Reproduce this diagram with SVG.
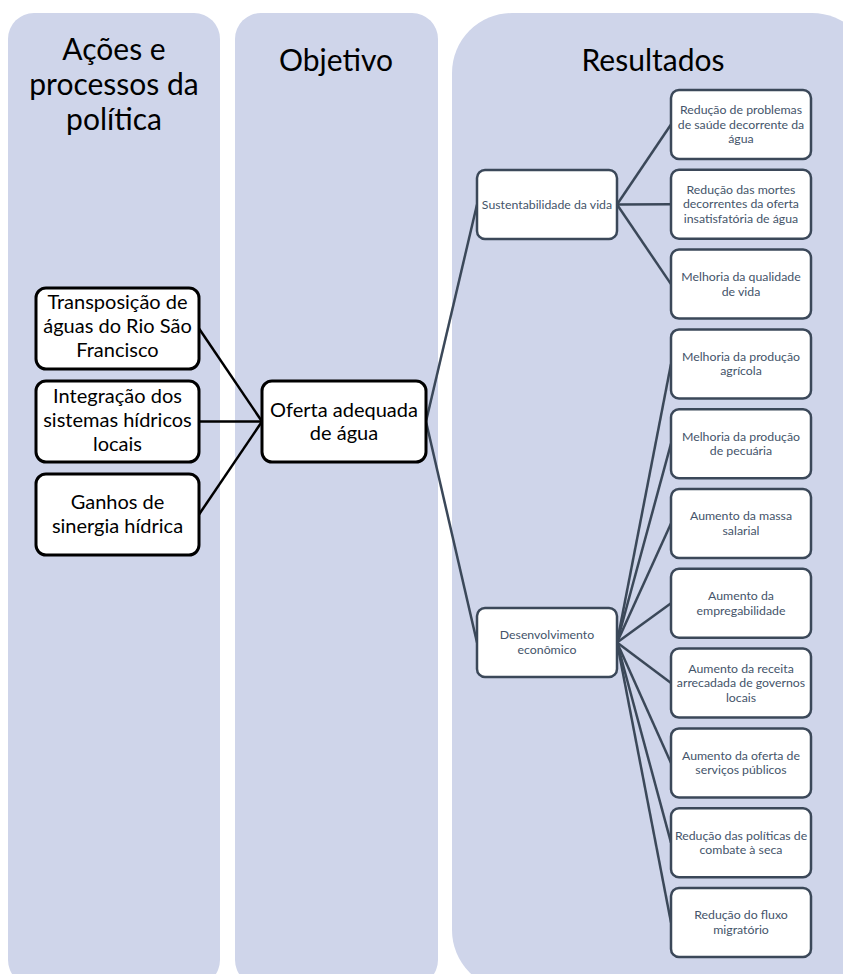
<svg xmlns="http://www.w3.org/2000/svg" width="843" height="974" viewBox="0 0 843 974">
<style>
.panel{fill:#CFD5EA;stroke:none}
.hdr{font-family:Lato,"Open Sans","Noto Sans",sans-serif;font-size:30px;fill:#000;text-anchor:middle}
.bn{fill:#fff;stroke:#000;stroke-width:3}
.bt{font-family:Lato,"Open Sans","Noto Sans",sans-serif;font-size:20px;fill:#000;text-anchor:middle}
.rn{fill:#fff;stroke:#3B4859;stroke-width:2.5}
.rt{font-family:Lato,"Open Sans","Noto Sans",sans-serif;font-size:12.3px;fill:#44546A;text-anchor:middle}
.cb{stroke:#000;stroke-width:2.5;fill:none}
.cs{stroke:#3B4859;stroke-width:2.5;fill:none}
</style>
<rect width="843" height="974" fill="#fff"/>
<g id="panels">
<rect class="panel" x="8" y="13" width="212" height="973" rx="26"/>
<rect class="panel" x="235" y="13" width="203" height="973" rx="26"/>
<rect class="panel" x="452" y="13" width="420" height="977" rx="60"/>
<text class="hdr" x="114" y="60">Ações e</text>
<text class="hdr" x="114" y="95">processos da</text>
<text class="hdr" x="114" y="130">política</text>
<text class="hdr" x="336" y="71">Objetivo</text>
<text class="hdr" x="653" y="71">Resultados</text>
</g>
<g id="connectors">
<line class="cb" x1="199" y1="328.5" x2="262" y2="421.5"/>
<line class="cb" x1="199" y1="421.5" x2="262" y2="421.5"/>
<line class="cb" x1="199" y1="514.5" x2="262" y2="421.5"/>
<line class="cs" x1="426" y1="421.5" x2="477" y2="204.5"/>
<line class="cs" x1="426" y1="421.5" x2="477" y2="642.5"/>
<line class="cs" x1="617" y1="204.5" x2="671" y2="124.5"/>
<line class="cs" x1="617" y1="204.5" x2="671" y2="204.3"/>
<line class="cs" x1="617" y1="204.5" x2="671" y2="284.1"/>
<line class="cs" x1="617" y1="642.5" x2="671" y2="363.9"/>
<line class="cs" x1="617" y1="642.5" x2="671" y2="443.7"/>
<line class="cs" x1="617" y1="642.5" x2="671" y2="523.5"/>
<line class="cs" x1="617" y1="642.5" x2="671" y2="603.3"/>
<line class="cs" x1="617" y1="642.5" x2="671" y2="683.1"/>
<line class="cs" x1="617" y1="642.5" x2="671" y2="762.9"/>
<line class="cs" x1="617" y1="642.5" x2="671" y2="842.7"/>
<line class="cs" x1="617" y1="642.5" x2="671" y2="922.5"/>
</g>
<g id="n-transposicao">
<rect class="bn" x="36" y="288" width="163" height="81" rx="10"/>
<text class="bt" x="117.5" y="309">Transposição de</text>
<text class="bt" x="117.5" y="333">águas do Rio São</text>
<text class="bt" x="117.5" y="357">Francisco</text>
</g>
<g id="n-integracao">
<rect class="bn" x="36" y="381" width="163" height="81" rx="10"/>
<text class="bt" x="117.5" y="403">Integração dos</text>
<text class="bt" x="117.5" y="427">sistemas hídricos</text>
<text class="bt" x="117.5" y="451">locais</text>
</g>
<g id="n-ganhos">
<rect class="bn" x="36" y="474" width="163" height="81" rx="10"/>
<text class="bt" x="117.5" y="509">Ganhos de</text>
<text class="bt" x="117.5" y="533">sinergia hídrica</text>
</g>
<g id="n-oferta">
<rect class="bn" x="262" y="381" width="164" height="81" rx="10"/>
<text class="bt" x="344" y="417">Oferta adequada</text>
<text class="bt" x="344" y="440">de água</text>
</g>
<g id="n-sustentabilidade">
<rect class="rn" x="477" y="170" width="140" height="69" rx="8"/>
<text class="rt" x="547" y="209">Sustentabilidade da vida</text>
</g>
<g id="n-desenvolvimento">
<rect class="rn" x="477" y="608" width="140" height="69" rx="8"/>
<text class="rt" x="547" y="639">Desenvolvimento</text>
<text class="rt" x="547" y="654">econômico</text>
</g>
<g id="r1">
<rect class="rn" x="671" y="90" width="140" height="69" rx="8"/>
<text class="rt" x="741" y="114">Redução de problemas</text>
<text class="rt" x="741" y="128.5">de saúde decorrente da</text>
<text class="rt" x="741" y="143">água</text>
</g>
<g id="r2">
<rect class="rn" x="671" y="169.8" width="140" height="69" rx="8"/>
<text class="rt" x="741" y="193.8">Redução das mortes</text>
<text class="rt" x="741" y="208.3">decorrentes da oferta</text>
<text class="rt" x="741" y="222.8">insatisfatória de água</text>
</g>
<g id="r3">
<rect class="rn" x="671" y="249.6" width="140" height="69" rx="8"/>
<text class="rt" x="741" y="281">Melhoria da qualidade</text>
<text class="rt" x="741" y="295.5">de vida</text>
</g>
<g id="r4">
<rect class="rn" x="671" y="329.4" width="140" height="69" rx="8"/>
<text class="rt" x="741" y="360.8">Melhoria da produção</text>
<text class="rt" x="741" y="375.3">agrícola</text>
</g>
<g id="r5">
<rect class="rn" x="671" y="409.2" width="140" height="69" rx="8"/>
<text class="rt" x="741" y="440.6">Melhoria da produção</text>
<text class="rt" x="741" y="455.1">de pecuária</text>
</g>
<g id="r6">
<rect class="rn" x="671" y="489" width="140" height="69" rx="8"/>
<text class="rt" x="741" y="520.4">Aumento da massa</text>
<text class="rt" x="741" y="534.9">salarial</text>
</g>
<g id="r7">
<rect class="rn" x="671" y="568.8" width="140" height="69" rx="8"/>
<text class="rt" x="741" y="600.2">Aumento da</text>
<text class="rt" x="741" y="614.7">empregabilidade</text>
</g>
<g id="r8">
<rect class="rn" x="671" y="648.6" width="140" height="69" rx="8"/>
<text class="rt" x="741" y="672.6">Aumento da receita</text>
<text class="rt" x="741" y="687.1">arrecadada de governos</text>
<text class="rt" x="741" y="701.6">locais</text>
</g>
<g id="r9">
<rect class="rn" x="671" y="728.4" width="140" height="69" rx="8"/>
<text class="rt" x="741" y="759.8">Aumento da oferta de</text>
<text class="rt" x="741" y="774.3">serviços públicos</text>
</g>
<g id="r10">
<rect class="rn" x="671" y="808.2" width="140" height="69" rx="8"/>
<text class="rt" x="741" y="839.6">Redução das políticas de</text>
<text class="rt" x="741" y="854.1">combate à seca</text>
</g>
<g id="r11">
<rect class="rn" x="671" y="888" width="140" height="69" rx="8"/>
<text class="rt" x="741" y="919.4">Redução do fluxo</text>
<text class="rt" x="741" y="933.9">migratório</text>
</g>
</svg>
